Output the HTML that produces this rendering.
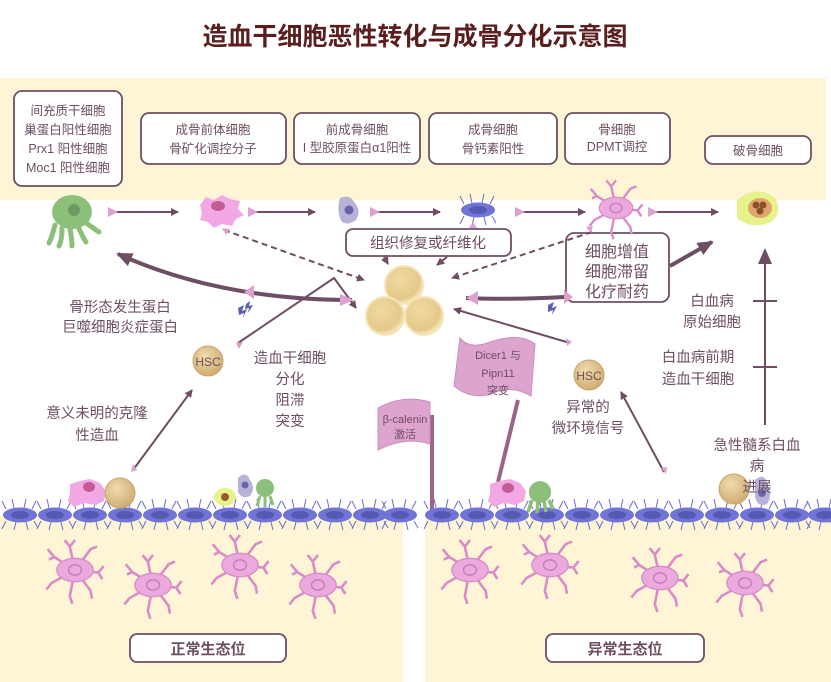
<!DOCTYPE html>
<html><head><meta charset="utf-8"><style>
body{margin:0;background:#fff}
svg{display:block;font-family:"Liberation Sans","Noto Sans CJK SC",sans-serif}
</style></head><body>
<svg width="831" height="682" viewBox="0 0 831 682" xmlns="http://www.w3.org/2000/svg">
<defs>
<marker id="ah" markerWidth="8" markerHeight="8" refX="7" refY="4" orient="auto" markerUnits="userSpaceOnUse"><path d="M0,0 L8,4 L0,8 z" fill="#6e4e64"/></marker>
<marker id="ahb" markerWidth="16" markerHeight="14" refX="14" refY="7" orient="auto" markerUnits="userSpaceOnUse"><path d="M0,0 L16,7 L0,14 z" fill="#6e4e64"/></marker>
<marker id="pt" markerWidth="10" markerHeight="10" refX="2" refY="5" orient="auto" markerUnits="userSpaceOnUse"><path d="M0,0 L10,5 L0,10 z" fill="#dda0cf"/></marker>
<radialGradient id="yc" cx="40%" cy="35%" r="65%"><stop offset="0" stop-color="#f0d9a0"/><stop offset="0.8" stop-color="#e5c98a"/><stop offset="1" stop-color="#f8e8bf"/></radialGradient>
<radialGradient id="hsc" cx="40%" cy="35%" r="65%"><stop offset="0" stop-color="#f1dcae"/><stop offset="1" stop-color="#cfae72"/></radialGradient>
<g id="epi">
<path d="M-14,-6 l-4,-8 M-6,-7 l-2,-9 M4,-7 l2,-9 M12,-6 l4,-8 M-14,6 l-4,8 M-4,7 l-2,8 M6,7 l2,8 M14,6 l4,7" stroke="#6a6fc8" stroke-width="1" fill="none"/>
<ellipse rx="17" ry="7.5" fill="#6f74d6"/><ellipse rx="9" ry="4" fill="#5559b2"/>
</g>
<g id="ost">
<path d="M0,0 l-16,-10 l-5,-6 M-16,-10 l-4,2 M0,0 l-4,-18 l-4,-5 M-4,-18 l4,-5 M0,0 l12,-16 l5,-2 M0,0 l18,2 l4,-5 M18,2 l3,5 M0,0 l12,16 l1,6 M0,0 l-4,20 l2,6 M0,0 l-18,10 l-4,5" stroke="#d98cc8" stroke-width="2" fill="none"/>
<ellipse rx="14" ry="9" fill="#eba9dd" stroke="#d98cc8"/><ellipse rx="5" ry="4" fill="none" stroke="#c57ab6"/>
</g>
</defs>

<rect x="0" y="78" width="826" height="122" fill="#fdf5d6"/>
<rect x="0" y="515" width="403" height="167" fill="#fdf5d6"/>
<rect x="425" y="515" width="406" height="167" fill="#fdf5d6"/>

<text x="415" y="45" text-anchor="middle" font-size="25" font-weight="bold" fill="#5a1e1e">造血干细胞恶性转化与成骨分化示意图</text>

<g fill="#fff" stroke="#6e4e64" stroke-width="1.8">
<rect x="14" y="91" width="108" height="95" rx="8"/>
<rect x="141" y="113" width="145" height="51" rx="8"/>
<rect x="294" y="113" width="126" height="51" rx="8"/>
<rect x="429" y="113" width="128" height="51" rx="8"/>
<rect x="565" y="113" width="105" height="51" rx="8"/>
<rect x="705" y="136" width="106" height="28" rx="8"/>
<rect x="346" y="229" width="165" height="27" rx="7"/>
<rect x="566" y="233" width="103" height="69" rx="8"/>
<rect x="130" y="634" width="156" height="28" rx="7"/>
<rect x="546" y="634" width="158" height="28" rx="7"/>
</g>
<g fill="#6e4e64" font-size="12.5" text-anchor="middle">
<text x="68" y="115">间充质干细胞</text><text x="68" y="134">巢蛋白阳性细胞</text><text x="68" y="153">Prx1 阳性细胞</text><text x="68" y="172">Moc1 阳性细胞</text>
<text x="213" y="134">成骨前体细胞</text><text x="213" y="153">骨矿化调控分子</text>
<text x="357" y="134">前成骨细胞</text><text x="357" y="152">I 型胶原蛋白α1阳性</text>
<text x="493" y="134">成骨细胞</text><text x="493" y="153">骨钙素阳性</text>
<text x="617" y="134">骨细胞</text><text x="617" y="151">DPMT调控</text>
<text x="758" y="155">破骨细胞</text>
<text x="428" y="248" font-size="14.5">组织修复或纤维化</text>
<text x="617" y="257" font-size="16">细胞增值</text><text x="617" y="277" font-size="16">细胞滞留</text><text x="617" y="297" font-size="16">化疗耐药</text>
<text x="208" y="654" font-size="15" font-weight="bold">正常生态位</text>
<text x="625" y="654" font-size="15" font-weight="bold">异常生态位</text>
</g>

<g>
<path d="M55,225 q-3,12 -6,18 M62,228 q0,12 -3,18 M70,228 q2,12 2,18 M78,226 q4,10 8,16 M85,222 q8,6 14,10" stroke="#8cc07a" stroke-width="5" stroke-linecap="round" fill="none"/>
<ellipse cx="72" cy="212" rx="20" ry="17" fill="#8cc07a"/><circle cx="74" cy="210" r="6" fill="#6c9a60"/>
<path d="M200,205 l6,-8 l8,3 l8,-5 l8,4 l10,2 l-2,8 l6,6 l-8,4 l-4,7 l-10,-2 l-8,4 l-6,-6 l-8,-2 l2,-7z" fill="#f2a8e4"/><ellipse cx="218" cy="206" rx="7" ry="5" fill="#c45c94"/>
<path d="M340,198 q10,-4 14,4 q8,8 2,18 q-8,6 -14,2 q-6,-10 -2,-24z" fill="#b6b2d8"/><circle cx="349" cy="210" r="4.5" fill="#6a64ae"/>
<use href="#epi" x="478" y="210"/>
<use href="#ost" transform="translate(616,208) scale(1.2)"/>
<path d="M737,200 q20,-16 38,-2 q8,14 -4,24 q-20,8 -34,-4z" fill="#e6f28a"/><ellipse cx="760" cy="208" rx="12" ry="10" fill="#dca96a"/>
<circle cx="756" cy="205" r="3.5" fill="#8f4e2c"/><circle cx="763" cy="205" r="3.5" fill="#8f4e2c"/><circle cx="760" cy="211" r="3.5" fill="#8f4e2c"/>
</g>

<g stroke="#6e4e64" stroke-width="2" fill="none">
<line x1="110" y1="212" x2="178" y2="212" marker-start="url(#pt)" marker-end="url(#ah)"/>
<line x1="250" y1="212" x2="315" y2="212" marker-start="url(#pt)" marker-end="url(#ah)"/>
<line x1="372" y1="212" x2="440" y2="212" marker-start="url(#pt)" marker-end="url(#ah)"/>
<line x1="517" y1="212" x2="585" y2="212" marker-start="url(#pt)" marker-end="url(#ah)"/>
<line x1="650" y1="212" x2="718" y2="212" marker-start="url(#pt)" marker-end="url(#ah)"/>
<line x1="224" y1="230" x2="364" y2="280" stroke-dasharray="6,4" marker-end="url(#ah)"/>
<line x1="592" y1="232" x2="452" y2="278" stroke-dasharray="6,4" marker-end="url(#ah)"/>
<line x1="384" y1="257" x2="388" y2="264" marker-end="url(#ah)"/>
<line x1="447" y1="257" x2="437" y2="265" marker-end="url(#ah)"/>
<polyline points="238,343 334,278 356,308" marker-end="url(#ah)"/>
<line x1="570" y1="343" x2="454" y2="309" marker-end="url(#ah)"/>
<line x1="133" y1="470" x2="192" y2="390" marker-end="url(#ah)"/>
<line x1="664" y1="472" x2="621" y2="392" marker-end="url(#ah)"/>
<line x1="765" y1="425" x2="765" y2="250" marker-end="url(#ahb)"/>
<line x1="753" y1="301" x2="777" y2="301"/><line x1="753" y1="367" x2="777" y2="367"/>
</g>
<g stroke="#6e4e64" stroke-width="4" fill="none">
<path d="M352,300 Q220,300 118,254" marker-end="url(#ahb)"/>
<path d="M564,297 Q510,300 466,298"/>
<path d="M670,266 L712,242" marker-end="url(#ahb)"/>
</g>
<g fill="#dda0cf">
<path d="M244,292 l10,-7 l0,14z"/><path d="M340,294 l14,6 l-14,6z"/><path d="M466,298 l12,-7 l0,14z"/><path d="M564,290 l9,7 l-9,7z"/>
<path d="M236,343 l7,-1 l-4,7z"/><path d="M572,342 l-6,-4 l1,8z"/><path d="M131,472 l2,-8 l4,6z"/><path d="M666,474 l-5,-6 l6,-1z"/>
<path d="M222,228 l8,1 l-4,6z"/><path d="M591,233 l-5,-6 l7,-1z"/><path d="M473,222 l-4,6 l8,0z"/>
</g>

<circle cx="404" cy="285" r="19" fill="url(#yc)" stroke="#f5e4b8" stroke-width="2"/>
<circle cx="385" cy="316" r="19" fill="url(#yc)" stroke="#f5e4b8" stroke-width="2"/>
<circle cx="424" cy="316" r="19" fill="url(#yc)" stroke="#f5e4b8" stroke-width="2"/>

<path d="M238,308 l6,-3 l-2,6 l5,-2 l-4,9 l1,-5 l-5,2z M246,304 l4,-3 l-1,5 l4,-1 l-5,8 l1,-5 l-4,1z" fill="#5a5fb0"/>
<path d="M548,305 l6,-3 l-2,6 l5,-2 l-5,9 l1,-5 l-5,2z" fill="#5a5fb0"/>

<g fill="#6e4e64" font-size="14.5" text-anchor="middle">
<text x="120" y="312">骨形态发生蛋白</text><text x="120" y="332">巨噬细胞炎症蛋白</text>
<text x="290" y="363">造血干细胞</text><text x="290" y="384">分化</text><text x="290" y="405">阻滞</text><text x="290" y="426">突变</text>
<text x="97" y="418">意义未明的克隆</text><text x="97" y="440">性造血</text>
<text x="588" y="412">异常的</text><text x="588" y="433">微环境信号</text>
<text x="712" y="306">白血病</text><text x="712" y="327">原始细胞</text>
<text x="698" y="362">白血病前期</text><text x="698" y="384">造血干细胞</text>
</g>
<circle cx="208" cy="361" r="15" fill="url(#hsc)" stroke="#c8a56a"/><text x="208" y="366" font-size="12" text-anchor="middle" fill="#6e4e64">HSC</text>
<circle cx="589" cy="375" r="15" fill="url(#hsc)" stroke="#c8a56a"/><text x="589" y="380" font-size="12" text-anchor="middle" fill="#6e4e64">HSC</text>

<line x1="432" y1="415" x2="432" y2="510" stroke="#9a6688" stroke-width="4"/>
<path d="M378,408 q25,-14 52,-6 l0,42 q-25,-8 -52,6z" fill="#dca4cf" stroke="#c990bc"/>
<text x="405" y="423" font-size="11" text-anchor="middle" fill="#6e4e64">β-calenin</text>
<text x="405" y="438" font-size="11" text-anchor="middle" fill="#6e4e64">激活</text>
<line x1="518" y1="400" x2="498" y2="482" stroke="#9a6688" stroke-width="4"/>
<path d="M460,338 q10,12 30,4 q30,-10 45,2 l-4,52 q-20,-12 -40,-2 q-20,6 -37,-8z" fill="#dca4cf" stroke="#c990bc"/>
<g font-size="11" text-anchor="middle" fill="#6e4e64"><text x="498" y="359">Dicer1 与</text><text x="498" y="377">Pipn11</text><text x="498" y="394">突变</text></g>

<g>
<use href="#epi" x="20" y="515"/><use href="#epi" x="55" y="515"/><use href="#epi" x="90" y="515"/><use href="#epi" x="125" y="515"/><use href="#epi" x="160" y="515"/><use href="#epi" x="195" y="515"/><use href="#epi" x="230" y="515"/><use href="#epi" x="265" y="515"/><use href="#epi" x="300" y="515"/><use href="#epi" x="335" y="515"/><use href="#epi" x="370" y="515"/><use href="#epi" x="400" y="515"/>
<use href="#epi" x="442" y="515"/><use href="#epi" x="477" y="515"/><use href="#epi" x="512" y="515"/><use href="#epi" x="547" y="515"/><use href="#epi" x="582" y="515"/><use href="#epi" x="617" y="515"/><use href="#epi" x="652" y="515"/><use href="#epi" x="687" y="515"/><use href="#epi" x="722" y="515"/><use href="#epi" x="757" y="515"/><use href="#epi" x="792" y="515"/><use href="#epi" x="825" y="515"/>
</g>
<path d="M70,484 l10,-3 l10,-2 l10,4 l6,8 l-2,10 l-8,4 l-12,-2 l-10,4 l-6,-6 l2,-8z" fill="#f2a8e4"/><ellipse cx="89" cy="487" rx="6" ry="5" fill="#c45c94"/>
<circle cx="120" cy="493" r="15" fill="url(#hsc)" stroke="#c8a56a"/>
<ellipse cx="225" cy="497" rx="11" ry="9" fill="#e6f28a"/><circle cx="225" cy="497" r="4" fill="#9a5a30"/>
<path d="M238,478 q8,-8 12,2 q6,8 0,16 q-8,4 -12,-4z" fill="#b6b2d8"/><circle cx="245" cy="485" r="3.5" fill="#6a64ae"/>
<path d="M260,496 l-3,10 M265,497 l0,10 M270,496 l3,9" stroke="#8cc07a" stroke-width="3" fill="none"/><circle cx="265" cy="488" r="9" fill="#8cc07a"/>
<path d="M490,484 l10,-3 l10,-2 l10,4 l6,8 l-2,10 l-8,4 l-12,-2 l-10,4 l-6,-6 l2,-8z" fill="#f2a8e4"/><ellipse cx="508" cy="488" rx="6" ry="5" fill="#c45c94"/>
<path d="M532,500 l-4,12 M538,501 l-1,12 M544,501 l2,11 M549,500 l4,9" stroke="#8cc07a" stroke-width="3.5" fill="none"/><circle cx="540" cy="492" r="11" fill="#8cc07a"/>
<circle cx="734" cy="489" r="15" fill="url(#hsc)" stroke="#c8a56a"/>
<path d="M755,480 q10,-8 12,4 q6,12 0,20 q-10,4 -12,-8z" fill="#b6b2d8"/><circle cx="762" cy="493" r="4" fill="#6a64ae"/>
<g fill="#6e4e64" font-size="14.5" text-anchor="middle"><text x="757" y="450">急性髓系白血</text><text x="757" y="471">病</text><text x="757" y="492">进展</text></g>

<use href="#ost" transform="translate(75,570) scale(1.3)"/><use href="#ost" transform="translate(153,585) scale(1.3)"/><use href="#ost" transform="translate(240,565) scale(1.3)"/><use href="#ost" transform="translate(318,585) scale(1.3)"/>
<use href="#ost" transform="translate(470,570) scale(1.3)"/><use href="#ost" transform="translate(550,565) scale(1.3)"/><use href="#ost" transform="translate(660,578) scale(1.3)"/><use href="#ost" transform="translate(745,583) scale(1.3)"/>
</svg>
</body></html>
